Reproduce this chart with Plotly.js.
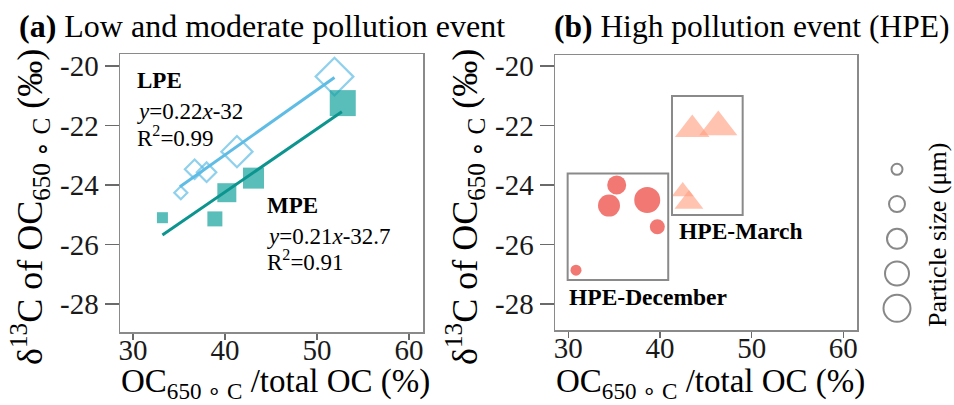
<!DOCTYPE html>
<html><head><meta charset="utf-8">
<script src="https://cdn.plot.ly/plotly-3.0.1.min.js"></script>
<style>html,body{margin:0;padding:0;background:#fff}#chart{width:954px;height:405px}</style>
</head><body><div id="chart"></div>
<script>
// ---------------- data ----------------
const lpeX = [51.9, 41.3, 38.0, 36.7, 35.2];
const lpeY = [-20.36, -22.88, -23.57, -23.47, -24.26];
const lpeClass = [5, 4, 2, 2, 1];

const mpeX = [52.8, 43.1, 40.2, 38.9, 33.2];
const mpeY = [-21.25, -23.77, -24.26, -25.14, -25.10];
const mpeClass = [5, 4, 3, 2, 1];

const fitLpeX = [35.1, 51.9];
const fitLpeY = [-24.06, -20.39];
const fitMpeX = [33.2, 52.7];
const fitMpeY = [-25.68, -21.54];

const decX = [35.28, 34.44, 38.61, 39.71, 30.84];
const decY = [-24.00, -24.69, -24.50, -25.40, -26.86];
const decClass = [3, 4, 5, 2, 1];

const marX = [43.52, 46.36, 42.48, 43.16];
const marY = [-22.13, -22.05, -24.22, -24.59];
const marClass = [3, 4, 1, 2];

const decBoxX = [29.93, 40.90];
const decBoxY = [-27.19, -23.61];
const marBoxX = [41.31, 49.02];
const marBoxY = [-25.01, -21.01];

const legendClass = [1, 2, 3, 4, 5];

const xTicks = [30, 40, 50, 60];
const xTickText = ['30', '40', '50', '60'];
const yTicks = [-20, -22, -24, -26, -28];
const yTickText = ['-20', '-22', '-24', '-26', '-28'];

const lpeEq = ['LPE', 'y=0.22x-32', 'R2=0.99'];
const mpeEq = ['MPE', 'y=0.21x-32.7', 'R2=0.91'];

// ---------------- styles ----------------
const FONT = '"Liberation Serif", "Times New Roman", serif';
const diamondSize = [10, 15, 19, 24, 29];
const squareSize = [11, 15, 19, 21, 26];
const circleSize = [11, 15, 19, 22, 26];
const triSize = [19, 25, 30, 33];
const legSize = [11, 16, 20, 24, 27];
const map = (cls, scale) => cls.map(c => scale[c - 1]);
const W = 954, H = 405;
const px = x => x / W, py = y => 1 - y / H;

const traces = [
  {x: lpeX, y: lpeY, type: 'scatter', mode: 'markers', xaxis: 'x', yaxis: 'y',
   marker: {symbol: 'diamond-open', size: map(lpeClass, diamondSize), color: '#5fbce4', line: {width: 2.2, color: '#5fbce4'}}},
  {x: fitLpeX, y: fitLpeY, type: 'scatter', mode: 'lines', xaxis: 'x', yaxis: 'y',
   line: {color: '#5fbce4', width: 3}},
  {x: mpeX, y: mpeY, type: 'scatter', mode: 'markers', xaxis: 'x', yaxis: 'y',
   marker: {symbol: 'square', size: map(mpeClass, squareSize), color: '#13a19c', line: {width: 0}}},
  {x: fitMpeX, y: fitMpeY, type: 'scatter', mode: 'lines', xaxis: 'x', yaxis: 'y',
   line: {color: '#0c948f', width: 3}},
  {x: decX, y: decY, type: 'scatter', mode: 'markers', xaxis: 'x2', yaxis: 'y2',
   marker: {symbol: 'circle', size: map(decClass, circleSize), color: '#f0716c', opacity: 0.95, line: {width: 0}}},
  {x: marX, y: marY, type: 'scatter', mode: 'markers', xaxis: 'x2', yaxis: 'y2',
   marker: {symbol: 'triangle-up', size: map(marClass, triSize), color: '#ff9e80', opacity: 0.62, line: {width: 0}}},
  {x: legendClass.map(() => 0), y: legendClass.map((c, i) => i), type: 'scatter', mode: 'markers', xaxis: 'x3', yaxis: 'y3',
   marker: {symbol: 'circle-open', size: map(legendClass, legSize), color: '#555', line: {width: 2, color: '#555'}}}
];

const axBase = () => ({
  showgrid: false, zeroline: false, showline: true, mirror: true,
  linecolor: '#8a8a8a', linewidth: 1.5, ticks: 'outside', tickwidth: 1.5, tickcolor: '#6a6a6a',
  tickfont: {family: FONT, size: 29, color: '#1a1a1a'}, tickmode: 'array', fixedrange: true
});

const shapes = [
  {type: 'rect', xref: 'x2', yref: 'y2', x0: decBoxX[0], x1: decBoxX[1], y0: decBoxY[0], y1: decBoxY[1],
   line: {color: '#8a8a8a', width: 2}},
  {type: 'rect', xref: 'x2', yref: 'y2', x0: marBoxX[0], x1: marBoxX[1], y0: marBoxY[0], y1: marBoxY[1],
   line: {color: '#8a8a8a', width: 2}}
];

const fmtEq = s => s.replace(/^y/, '<i>y</i>').replace(/x/, '<i>x</i>').replace('R2', 'R<sup>2</sup>');
const txt = (text, x, y, xref, yref, size, extra) => Object.assign({
  text, x, y, xref, yref, showarrow: false, xanchor: 'left', yanchor: 'middle',
  font: {family: FONT, size, color: '#000'}
}, extra || {});

const xTitle = 'OC<sub>650 ∘ C</sub> /total OC (%)';
const yTitle = 'δ<sup>13</sup>C of OC<sub>650 ∘ C</sub> (‰)';

const annotations = [
  txt('<b>(a)</b> Low and moderate pollution event', px(17), py(26), 'paper', 'paper', 32),
  txt('<b>(b)</b> High pollution event (HPE)', px(552), py(26), 'paper', 'paper', 31.5),
  txt('<b>' + lpeEq[0] + '</b>', 30.2, -20.49, 'x', 'y', 23),
  txt(fmtEq(lpeEq[1]), 30.2, -21.52, 'x', 'y', 23),
  txt(fmtEq(lpeEq[2]), 30.2, -22.38, 'x', 'y', 23),
  txt('<b>' + mpeEq[0] + '</b>', 44.35, -24.70, 'x', 'y', 23),
  txt(fmtEq(mpeEq[1]), 44.35, -25.72, 'x', 'y', 23),
  txt(fmtEq(mpeEq[2]), 44.35, -26.55, 'x', 'y', 23),
  txt('<b>HPE-March</b>', 41.82, -25.53, 'x2', 'y2', 23.5),
  txt('<b>HPE-December</b>', 29.83, -27.75, 'x2', 'y2', 23.5),
  txt(xTitle, px(275), py(383), 'paper', 'paper', 33, {xanchor: 'center'}),
  txt(xTitle, px(710), py(383), 'paper', 'paper', 33, {xanchor: 'center'}),
  txt(yTitle, px(30), py(207), 'paper', 'paper', 36, {xanchor: 'center', textangle: -90}),
  txt(yTitle, px(465), py(207), 'paper', 'paper', 36, {xanchor: 'center', textangle: -90}),
  txt('Particle size (μm)', px(937), py(235), 'paper', 'paper', 26, {xanchor: 'center', textangle: -90})
];

const layout = {
  width: W, height: H, margin: {l: 0, r: 0, t: 0, b: 0},
  font: {family: FONT, color: '#1a1a1a'},
  paper_bgcolor: '#fff', plot_bgcolor: '#fff', showlegend: false, hovermode: false,
  xaxis: Object.assign(axBase(), {domain: [px(120), px(423)], range: [28.59, 61.52], anchor: 'y',
    tickvals: xTicks, ticktext: xTickText, ticklen: 6, ticklabelstandoff: -14}),
  yaxis: Object.assign(axBase(), {domain: [py(332), py(54)], range: [-28.94, -19.6], anchor: 'x',
    tickvals: yTicks, ticktext: yTickText, ticklen: 14}),
  xaxis2: Object.assign(axBase(), {domain: [px(555), px(857)], range: [28.55, 61.49], anchor: 'y2',
    tickvals: xTicks, ticktext: xTickText, ticklen: 6, ticklabelstandoff: -14}),
  yaxis2: Object.assign(axBase(), {domain: [py(330), py(55)], range: [-28.87, -19.63], anchor: 'x2',
    tickvals: yTicks, ticktext: yTickText, ticklen: 14}),
  xaxis3: {domain: [px(880), px(914)], range: [-1, 1], visible: false, fixedrange: true, anchor: 'y3'},
  yaxis3: {domain: [0, 1], range: [6.783, -4.872], visible: false, fixedrange: true, anchor: 'x3'},
  shapes, annotations
};

Plotly.newPlot('chart', traces, layout, {staticPlot: true, displayModeBar: false});
</script>
</body></html>
